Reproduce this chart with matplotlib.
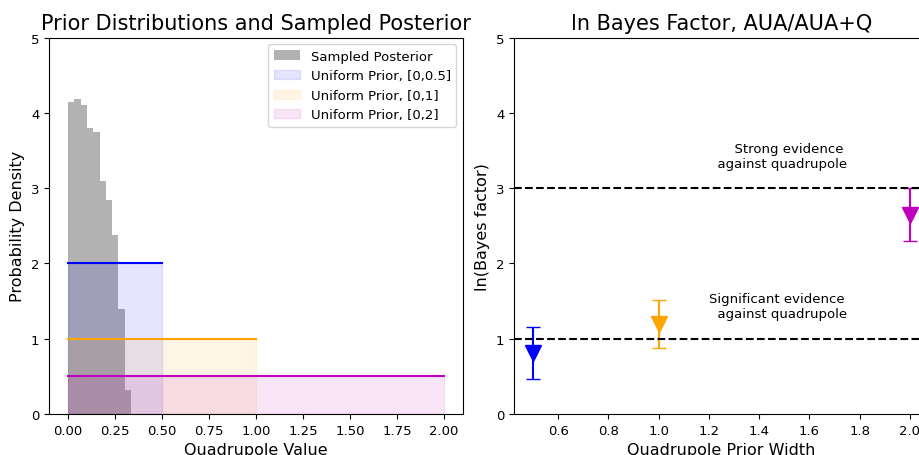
import numpy as np
import matplotlib
matplotlib.use('Agg')
import matplotlib.pyplot as plt

# posterior histogram (density)
bin_edges = np.linspace(0, 0.336, 11)
post_density = [4.14, 4.18, 4.11, 3.80, 3.75, 3.10, 2.85, 2.38, 1.39, 0.32]

# uniform priors
prior_widths = [0.5, 1.0, 2.0]
prior_colors = ['blue', 'orange', 'm']
prior_labels = ['Uniform Prior, [0,0.5]', 'Uniform Prior, [0,1]', 'Uniform Prior, [0,2]']

# ln Bayes factor per prior width
lnbf = [0.81, 1.20, 2.65]
lnbf_err = [0.34, 0.32, 0.35]

fig = plt.figure(figsize=(9.19, 4.56), dpi=100)
ax1 = fig.add_axes([0.0535, 0.090, 0.450, 0.825])
ax2 = fig.add_axes([0.5595, 0.090, 0.451, 0.825])

ax1.stairs(post_density, bin_edges, fill=True, color='grey', alpha=0.6, label='Sampled Posterior')
for w, c, lab in zip(prior_widths, prior_colors, prior_labels):
    ax1.fill_between([0, w], [1 / w, 1 / w], color=c, alpha=0.1, label=lab)
    ax1.plot([0, w], [1 / w, 1 / w], color=c)
ax1.set_ylim(0, 5)
ax1.set_xticks(np.arange(0, 2.01, 0.25))
ax1.set_xlabel('Quadrupole Value', fontsize=11.5)
ax1.set_ylabel('Probability Density', fontsize=11.5)
ax1.set_title('Prior Distributions and Sampled Posterior', fontsize=15)
ax1.legend(fontsize=9.5)

for w, v, e, c in zip(prior_widths, lnbf, lnbf_err, prior_colors):
    ax2.errorbar(w, v, yerr=e, color=c, marker='v', markersize=11, capsize=5)
ax2.axhline(1, color='k', ls='--')
ax2.axhline(3, color='k', ls='--')
ax2.text(1.2, 1.44, 'Significant evidence\n  against quadrupole', fontsize=9.5, va='center')
ax2.text(1.2, 3.43, '      Strong evidence\n  against quadrupole', fontsize=9.5, va='center')
ax2.set_ylim(0, 5)
ax2.set_xlabel('Quadrupole Prior Width', fontsize=11.5)
ax2.set_ylabel('ln(Bayes factor)', fontsize=11.5)
ax2.set_title('ln Bayes Factor, AUA/AUA+Q', fontsize=15)

for ax in (ax1, ax2):
    ax.tick_params(labelsize=9.5)

fig.savefig('out.png', dpi=100)
